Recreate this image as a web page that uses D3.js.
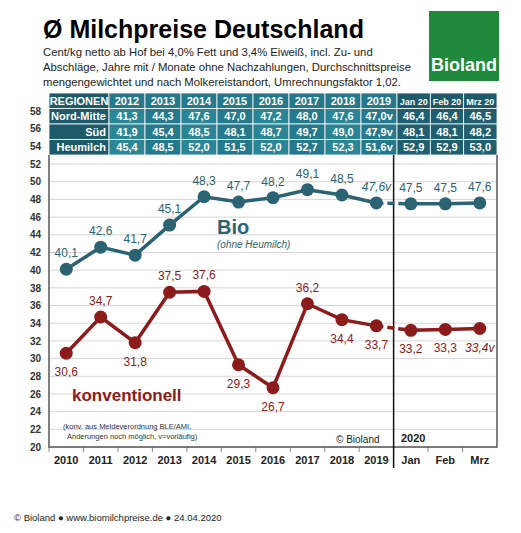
<!DOCTYPE html>
<html><head><meta charset="utf-8">
<script src="https://cdn.jsdelivr.net/npm/d3@7"></script>
<style>body{margin:0;background:#fff}text{font-family:"Liberation Sans",Arial,sans-serif}</style>
</head><body>
<script>
const categories = ['2010','2011','2012','2013','2014','2015','2016','2017','2018','2019','Jan','Feb','Mrz'];
const bio = [40.1,42.6,41.7,45.1,48.3,47.7,48.2,49.1,48.5,47.6,47.5,47.5,47.6];
const bioLabels = ['40,1','42,6','41,7','45,1','48,3','47,7','48,2','49,1','48,5','47,6v','47,5','47,5','47,6'];
const konv = [30.6,34.7,31.8,37.5,37.6,29.3,26.7,36.2,34.4,33.7,33.2,33.3,33.4];
const konvLabels = ['30,6','34,7','31,8','37,5','37,6','29,3','26,7','36,2','34,4','33,7','33,2','33,3','33,4v'];
const konvBelow = [true,false,true,false,false,true,true,false,true,true,true,true,true];
const yTicks = d3.range(20, 59, 2);
const tableHead = ['REGIONEN','2012','2013','2014','2015','2016','2017','2018','2019','Jan 20','Feb 20','Mrz 20'];
const tableRows = [
  ['Nord-Mitte','41,3','44,3','47,6','47,0','47,2','48,0','47,6','47,0v','46,4','46,4','46,5'],
  ['Süd','41,9','45,4','48,5','48,1','48,7','49,7','49,0','47,9v','48,1','48,1','48,2'],
  ['Heumilch','45,4','48,5','52,0','51,5','52,0','52,7','52,3','51,6v','52,9','52,9','53,0']
];

const W = 521, H = 533, L = 49, R = 497;
const svg = d3.select('body').append('svg').attr('width', W).attr('height', H);
const x = d3.scaleBand().domain(categories).range([L, R]);
const cx = d => x(d) + x.bandwidth() / 2;
const y = d3.scaleLinear().domain([20, 58]).range([447, 111]);
const blue = '#2b6373', red = '#8c1b1b';

// title
svg.append('text').attr('x', 43).attr('y', 38).attr('font-size', 25).attr('font-weight', 'bold').text('Ø Milchpreise Deutschland');
['Cent/kg netto ab Hof bei 4,0% Fett und 3,4% Eiweiß, incl. Zu- und',
 'Abschläge, Jahre mit / Monate ohne Nachzahlungen, Durchschnittspreise',
 'mengengewichtet und nach Molkereistandort, Umrechnungsfaktor 1,02.']
  .forEach((t, i) => svg.append('text').attr('x', 43).attr('y', 56 + i * 15).attr('font-size', 11.3).attr('fill', '#222').text(t));
// logo
svg.append('rect').attr('x', 429).attr('y', 11).attr('width', 70).attr('height', 70).attr('fill', '#1f8a3b');
svg.append('text').attr('x', 464).attr('y', 71).attr('text-anchor', 'middle').attr('font-size', 18).attr('font-weight', 'bold')
  .attr('font-family', 'Liberation Serif,serif').attr('fill', '#fff').text('Bioland');

// grid
svg.append('g').selectAll('line').data(yTicks.filter(v => v < 54)).join('line')
  .attr('x1', L).attr('x2', R).attr('y1', y).attr('y2', y).attr('stroke', '#d6d6d6');
// y axis labels
svg.append('g').attr('transform', `translate(${L},0)`)
  .call(d3.axisLeft(y).tickValues(yTicks).tickSize(0).tickPadding(8))
  .call(a => { a.select('.domain').remove(); a.selectAll('text').attr('font-size', 10).attr('font-weight', 'bold').attr('fill', '#333'); });
// x axis
svg.append('g').attr('transform', `translate(0,447)`)
  .call(d3.axisBottom(x).tickSize(0).tickPadding(9))
  .call(a => { a.select('.domain').remove(); a.selectAll('text').attr('font-size', 11).attr('font-weight', 'bold').attr('fill', '#222'); });
svg.append('g').selectAll('line').data(categories).join('line')
  .attr('x1', d => x(d)).attr('x2', d => x(d)).attr('y1', 447).attr('y2', 452).attr('stroke', '#888');

// table
const colW = i => i === 0 ? 60 : (i <= 8 ? 36 : (R - L - 60 - 8 * 36) / 3);
const colX = i => L + d3.sum(d3.range(i), colW);
const rowH = 15.5, tableTop = 93;
const tg = svg.append('g');
[tableHead, ...tableRows].forEach((row, r) => {
  row.forEach((t, i) => {
    const fill = r === 0 ? (i === 0 ? '#1d5a6a' : (i > 8 ? '#1d5a6a' : '#24798c'))
      : (i === 0 ? '#1d5a6a' : (i > 8 ? '#1f5f70' : (i % 2 ? '#2a8596' : '#24798c')));
    tg.append('rect').attr('x', colX(i)).attr('y', tableTop + r * rowH).attr('width', colW(i)).attr('height', rowH)
      .attr('fill', fill).attr('stroke', '#fff').attr('stroke-width', 0.8);
    const right = i === 0 && r > 0;
    tg.append('text').attr('x', right ? colX(1) - 3 : colX(i) + colW(i) / 2).attr('y', tableTop + r * rowH + 11.5)
      .attr('text-anchor', right ? 'end' : 'middle').attr('font-size', r === 0 && i > 8 ? 9 : 11)
      .attr('font-weight', 'bold').attr('fill', '#fff').text(t);
  });
});

// frame
svg.append('path').attr('d', `M${L},${tableTop + 4 * rowH}V447H${R}V${tableTop + 4 * rowH}`).attr('fill', 'none').attr('stroke', '#555').attr('stroke-width', 1.5);
svg.append('line').attr('x1', x('Jan')).attr('x2', x('Jan')).attr('y1', tableTop + 4 * rowH).attr('y2', 468).attr('stroke', '#111').attr('stroke-width', 1.5);

// lines
function series(vals, color) {
  const pts = categories.map((c, i) => [cx(c), y(vals[i])]);
  const line = d3.line();
  svg.append('path').attr('d', line(pts.slice(0, 10))).attr('fill', 'none').attr('stroke', color).attr('stroke-width', 3.5);
  svg.append('path').attr('d', line(pts.slice(9, 11))).attr('fill', 'none').attr('stroke', color).attr('stroke-width', 3.5).attr('stroke-dasharray', '7,4');
  svg.append('path').attr('d', line(pts.slice(10))).attr('fill', 'none').attr('stroke', color).attr('stroke-width', 3.5);
  svg.append('g').selectAll('circle').data(pts).join('circle').attr('cx', d => d[0]).attr('cy', d => d[1]).attr('r', 6.5).attr('fill', color);
}
series(bio, blue);
series(konv, red);

svg.append('g').selectAll('text').data(categories).join('text')
  .attr('x', cx).attr('y', (d, i) => y(bio[i]) - 12).attr('text-anchor', 'middle').attr('font-size', 12)
  .attr('fill', blue).attr('font-style', (d, i) => i === 9 ? 'italic' : null).text((d, i) => bioLabels[i]);
svg.append('g').selectAll('text').data(categories).join('text')
  .attr('x', cx).attr('y', (d, i) => konvBelow[i] ? y(konv[i]) + 23 : y(konv[i]) - 12).attr('text-anchor', 'middle').attr('font-size', 12)
  .attr('fill', red).attr('font-style', (d, i) => i === 12 ? 'italic' : null).text((d, i) => konvLabels[i]);

svg.append('text').attr('x', 217).attr('y', 234).attr('font-size', 20).attr('font-weight', 'bold').attr('fill', blue).text('Bio');
svg.append('text').attr('x', 217).attr('y', 248).attr('font-size', 10).attr('font-style', 'italic').attr('fill', blue).text('(ohne Heumilch)');
svg.append('text').attr('x', 72).attr('y', 401).attr('font-size', 17).attr('font-weight', 'bold').attr('fill', red).text('konventionell');
svg.append('text').attr('x', 63).attr('y', 429).attr('font-size', 7.5).attr('fill', '#333').text('(konv. aus Meldeverordnung BLE/AMI,');
svg.append('text').attr('x', 67).attr('y', 439).attr('font-size', 7.5).attr('fill', '#333').text('Änderungen noch möglich, v=vorläufig)');
svg.append('text').attr('x', 336).attr('y', 443).attr('font-size', 10).attr('fill', '#222').text('© Bioland');
svg.append('text').attr('x', 401).attr('y', 442).attr('font-size', 11).attr('font-weight', 'bold').attr('fill', '#222').text('2020');

svg.append('text').attr('x', 14).attr('y', 521).attr('font-size', 9.5).attr('fill', '#222').text('© Bioland  ●  www.biomilchpreise.de  ●  24.04.2020');
</script>
</body></html>
